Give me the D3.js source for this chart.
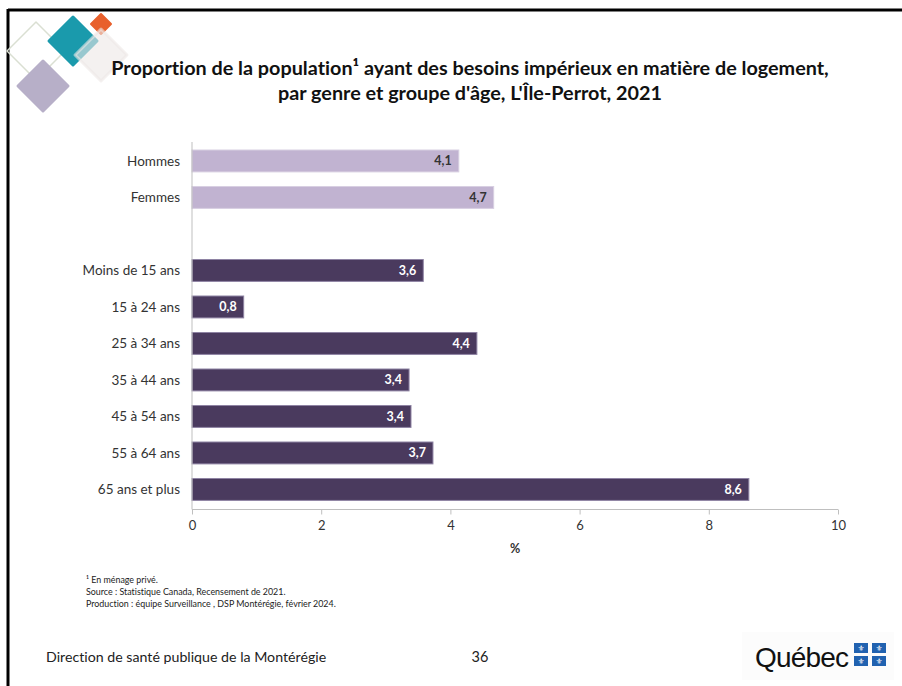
<!DOCTYPE html>
<html>
<head>
<meta charset="utf-8">
<script src="https://cdn.jsdelivr.net/npm/d3@7"></script>
<style>
  html,body{margin:0;padding:0;background:#fff;}
  svg{display:block;}
  text{font-variant-ligatures:none;}
</style>
</head>
<body>
<svg id="chart" width="902" height="686"></svg>
<script>
// ---- Data ----
const categories = ["Hommes", "Femmes", " ", "Moins de 15 ans", "15 à 24 ans", "25 à 34 ans", "35 à 44 ans", "45 à 54 ans", "55 à 64 ans", "65 ans et plus"];
const values = [4.13, 4.67, null, 3.58, 0.80, 4.41, 3.36, 3.39, 3.73, 8.62];
const groups = ["genre", "genre", "", "age", "age", "age", "age", "age", "age", "age"];
const xTicks = [0, 2, 4, 6, 8, 10];
const titleLines = ["Proportion de la population¹ ayant des besoins impérieux en matière de logement,", "par genre et groupe d'âge, L'Île-Perrot, 2021"];
const footnotes = ["¹ En ménage privé.", "Source : Statistique Canada, Recensement de 2021.", "Production : équipe Surveillance , DSP Montérégie, février 2024."];

const svg = d3.select("#chart");
const font = "Lato, 'Open Sans', sans-serif";

// ---- Slide frame ----
svg.append("line").attr("x1", 8).attr("x2", 902).attr("y1", 10).attr("y2", 10).attr("stroke", "#000").attr("stroke-width", 3);
svg.append("line").attr("x1", 8).attr("x2", 8).attr("y1", 9).attr("y2", 686).attr("stroke", "#000").attr("stroke-width", 3);

// ---- Decorative diamonds ----
function diamond(cx, cy, r) {
  return `M${cx},${cy - r} L${cx + r},${cy} L${cx},${cy + r} L${cx - r},${cy} Z`;
}
const deco = svg.append("g");
deco.append("path").attr("d", diamond(36, 51, 29)).attr("fill", "none").attr("stroke", "#dadfd2").attr("stroke-width", 1.5).attr("stroke-linejoin", "round");
deco.append("path").attr("d", diamond(43, 86, 25)).attr("fill", "#b7afc8").attr("stroke", "#b7afc8").attr("stroke-width", 3).attr("stroke-linejoin", "round");
deco.append("path").attr("d", diamond(73, 41, 24)).attr("fill", "#1a9aac").attr("stroke", "#1a9aac").attr("stroke-width", 3).attr("stroke-linejoin", "round");
deco.append("path").attr("d", diamond(101, 24, 10)).attr("fill", "#e8602c").attr("stroke", "#e8602c").attr("stroke-width", 2).attr("stroke-linejoin", "round");
deco.append("path").attr("d", diamond(101, 55, 26)).attr("fill", "#ece8e6").attr("fill-opacity", 0.6).attr("stroke", "#ece8e6").attr("stroke-opacity", 0.6).attr("stroke-width", 3).attr("stroke-linejoin", "round");

// ---- Title ----
svg.append("g").selectAll("text").data(titleLines).join("text")
  .attr("x", 470).attr("y", (d, i) => 75 + i * 25)
  .attr("text-anchor", "middle")
  .attr("font-family", font).attr("font-weight", "bold").attr("font-size", 19.8)
  .attr("fill", "#111")
  .text(d => d);

// ---- Scales ----
const x = d3.scaleLinear().domain([0, 10]).range([192, 838]);
const y = d3.scaleBand().domain(categories).range([142.7, 507.7]).paddingInner(0.4).paddingOuter(0.2);
const axisY = 509.5;

const fillColor = { genre: "#c1b3d1", age: "#4a3a5e" };
const strokeColor = { genre: "#d8cfe2", age: "#8e83a3" };
const labelColor = { genre: "#333", age: "#fff" };

const data = categories.map((c, i) => ({ cat: c, v: values[i], g: groups[i] }));

// bars
svg.append("g").selectAll("rect").data(data.filter(d => d.v != null)).join("rect")
  .attr("x", x(0)).attr("y", d => y(d.cat))
  .attr("width", d => x(d.v) - x(0)).attr("height", y.bandwidth())
  .attr("fill", d => fillColor[d.g])
  .attr("stroke", d => strokeColor[d.g]).attr("stroke-width", 1);

// value labels
const fmt = v => d3.format(".1f")(v).replace(".", ",");
svg.append("g").selectAll("text").data(data.filter(d => d.v != null)).join("text")
  .attr("x", d => x(d.v) - 7).attr("y", d => y(d.cat) + y.bandwidth() / 2)
  .attr("dy", "0.35em").attr("text-anchor", "end")
  .attr("font-family", font).attr("font-weight", "bold").attr("font-size", 12.5)
  .attr("fill", d => labelColor[d.g])
  .text(d => fmt(d.v));

// category labels
svg.append("g").selectAll("text").data(data.filter(d => d.v != null)).join("text")
  .attr("x", 180).attr("y", d => y(d.cat) + y.bandwidth() / 2)
  .attr("dy", "0.35em").attr("text-anchor", "end")
  .attr("font-family", font).attr("font-size", 13.5)
  .attr("fill", "#333")
  .text(d => d.cat);

// vertical axis line
svg.append("line").attr("x1", x(0)).attr("x2", x(0)).attr("y1", 142).attr("y2", axisY)
  .attr("stroke", "#bfbfbf").attr("stroke-width", 1);

// x axis
const xAxis = svg.append("g").attr("transform", `translate(0,${axisY})`)
  .call(d3.axisBottom(x).tickValues(xTicks).tickSize(5).tickPadding(6).tickFormat(d => d));
xAxis.select(".domain").attr("stroke", "#bfbfbf").attr("d", `M${x(0)},0H${x(10)}`);
xAxis.selectAll(".tick line").attr("stroke", "#bfbfbf");
xAxis.selectAll(".tick text").attr("font-family", font).attr("font-size", 13).attr("fill", "#333");

svg.append("text").attr("x", (x(0) + x(10)) / 2).attr("y", 553)
  .attr("text-anchor", "middle").attr("font-family", font).attr("font-weight", "bold").attr("font-size", 12.5).attr("fill", "#333")
  .text("%");

// footnotes
svg.append("g").selectAll("text").data(footnotes).join("text")
  .attr("x", 86).attr("y", (d, i) => 583 + i * 12)
  .attr("font-family", font).attr("font-size", 8.9).attr("fill", "#222")
  .text(d => d);

// footer
svg.append("text").attr("x", 46).attr("y", 662)
  .attr("font-family", font).attr("font-size", 14.2).attr("fill", "#222")
  .text("Direction de santé publique de la Montérégie");
svg.append("text").attr("x", 480).attr("y", 662).attr("text-anchor", "middle")
  .attr("font-family", font).attr("font-size", 14.5).attr("fill", "#222")
  .text("36");

// Québec logo
const logo = svg.append("g");
logo.append("rect").attr("x", 742).attr("y", 632).attr("width", 152).attr("height", 48).attr("fill", "#fcfcfc");
logo.append("text").attr("x", 755).attr("y", 667)
  .attr("font-family", "'Liberation Sans', Arial, sans-serif").attr("font-size", 28).attr("letter-spacing", -0.8).attr("fill", "#111")
  .text("Québec");
const flags = [[854, 643], [872, 643], [854, 656], [872, 656]];
logo.selectAll("rect.flag").data(flags).join("rect").attr("class", "flag")
  .attr("x", d => d[0]).attr("y", d => d[1]).attr("width", 14).attr("height", 10).attr("fill", "#2162b0");
logo.selectAll("text.fl").data(flags).join("text").attr("class", "fl")
  .attr("x", d => d[0] + 7).attr("y", d => d[1] + 5).attr("dy", "0.35em").attr("text-anchor", "middle")
  .attr("font-family", "'DejaVu Sans', sans-serif").attr("font-size", 8).attr("fill", "#fff")
  .text("⚜");
</script>
</body>
</html>
